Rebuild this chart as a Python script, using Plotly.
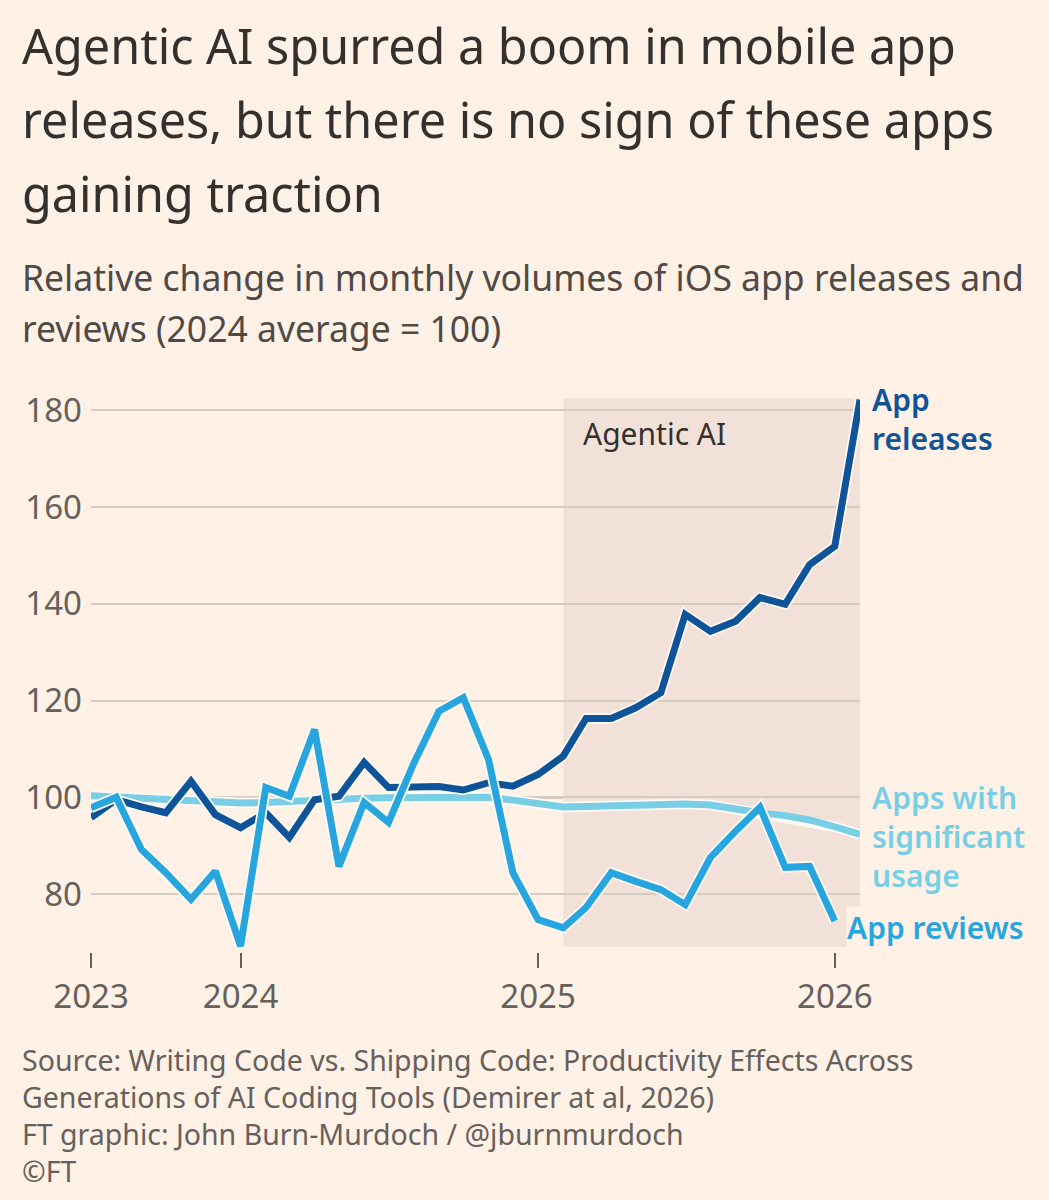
import plotly.graph_objects as go

months = [
    "2023-07-01", "2023-08-01", "2023-09-01", "2023-10-01", "2023-11-01", "2023-12-01",
    "2024-01-01", "2024-02-01", "2024-03-01", "2024-04-01", "2024-05-01", "2024-06-01",
    "2024-07-01", "2024-08-01", "2024-09-01", "2024-10-01", "2024-11-01", "2024-12-01",
    "2025-01-01", "2025-02-01", "2025-03-01", "2025-04-01", "2025-05-01", "2025-06-01",
    "2025-07-01", "2025-08-01", "2025-09-01", "2025-10-01", "2025-11-01", "2025-12-01",
    "2026-01-01", "2026-02-01",
]

app_releases = [
    95.8, 99.5, 98.0, 96.8, 103.3, 96.4,
    93.7, 96.8, 91.7, 99.5, 100.2, 107.2,
    102.0, 102.0, 102.2, 101.5, 103.0, 102.3,
    104.7, 108.5, 116.3, 116.3, 118.5, 121.6,
    137.8, 134.3, 136.4, 141.3, 139.9, 148.1,
    151.9, 182.2,
]

# reviews stop one month earlier (Jan 2026)
app_reviews = [
    97.8, 100.0, 89.2, 84.4, 78.9, 84.7,
    69.2, 102.0, 100.2, 114.0, 85.7, 98.9,
    94.8, 107.0, 117.8, 120.6, 107.8, 84.4,
    74.7, 73.0, 77.2, 84.4, 82.6, 80.9,
    77.8, 87.5, 93.0, 97.9, 85.5, 85.7,
    74.4,
]

significant_usage = [
    100.3, 100.0, 99.7, 99.4, 99.1, 98.9,
    98.8, 98.9, 99.2, 99.5, 99.7, 99.8,
    99.9, 100.0, 100.1, 100.2, 100.0, 99.4,
    98.8, 98.0, 98.1, 98.3, 98.5, 98.6,
    98.6, 98.4, 97.5, 96.8, 96.2, 95.3,
    93.9, 92.3,
]

x_tickvals = ["2023-07-01", "2024-01-01", "2025-01-01", "2026-01-01"]
x_ticktext = ["2023", "2024", "2025", "2026"]
y_ticks = [80, 100, 120, 140, 160, 180]

agentic_start = "2025-02-01"
agentic_end = "2026-02-01"

BG = "#fff1e5"
NAVY = "#0f5499"
SKY = "#27a5de"
AQUA = "#78cfe5"
GREY = "#66605c"
FONT = "Noto Sans"

# plot area in pixels
L, R, T, B = 91, 860, 391, 952
W, H = 1049, 1200


def px_x(px):
    return (px - L) / (R - L)


def px_y(py):
    return (B - py) / (B - T)


fig = go.Figure()

series = [
    (significant_usage, AQUA),
    (app_releases, NAVY),
    (app_reviews, SKY),
]
for vals, col in series:
    xs = months[:len(vals)]
    fig.add_trace(go.Scatter(x=xs, y=vals, mode="lines",
                             line=dict(color="#fffaf4", width=10.5),
                             hoverinfo="skip", showlegend=False))
    fig.add_trace(go.Scatter(x=xs, y=vals, mode="lines",
                             line=dict(color=col, width=7),
                             showlegend=False))

# agentic AI shading and the 100 baseline
fig.add_shape(type="rect", xref="x", yref="y", x0=agentic_start, x1=agentic_end,
              y0=69.1, y1=182.5, fillcolor="#f2e1d8", line_width=0, layer="below")
fig.add_shape(type="line", xref="paper", yref="y", x0=0, x1=1, y0=100, y1=100,
              line=dict(color="#5e5750", width=2), layer="between")

annos = []


def text(s, x, y, size, color, anchor="left", weight=None, bg=None):
    f = dict(family=FONT, size=size, color=color)
    if weight:
        f["weight"] = weight
    a = dict(text=s, xref="paper", yref="paper", x=px_x(x), y=px_y(y),
             xanchor=anchor, yanchor="middle", align="left", showarrow=False, font=f)
    if bg:
        a["bgcolor"] = bg
        a["borderpad"] = 0
    annos.append(a)


title_lines = ["Agentic AI spurred a boom in mobile app",
               "releases, but there is no sign of these apps",
               "gaining traction"]
for i, s in enumerate(title_lines):
    text(s, 20, 45 + i * 74, 48.5, "#33302e")

sub_lines = ["Relative change in monthly volumes of iOS app releases and",
             "reviews (2024 average = 100)"]
for i, s in enumerate(sub_lines):
    text(s, 20, 277 + i * 51, 35.5, "#4f4a46")

foot_lines = ["Source: Writing Code vs. Shipping Code: Productivity Effects Across",
              "Generations of AI Coding Tools (Demirer at al, 2026)",
              "FT graphic: John Burn-Murdoch / @jburnmurdoch",
              "©FT"]
for i, s in enumerate(foot_lines):
    text(s, 20, 1060 + i * 37, 28.5, GREY)

text("Agentic AI", 581, 433, 30, "#33302e")

text("App<br>releases", 870, 419, 30, NAVY, weight=600)
text("Apps with<br>significant<br>usage", 870, 836, 30, AQUA, weight=600)
text("App reviews", 846, 927, 30, SKY, weight=600, bg=BG)

fig.update_layout(
    width=W, height=H, autosize=False,
    margin=dict(l=L, r=W - R, t=T, b=H - B, pad=0),
    paper_bgcolor=BG, plot_bgcolor=BG,
    font=dict(family=FONT, color=GREY),
    annotations=annos,
    showlegend=False,
)
fig.update_xaxes(
    type="date", range=[months[0], months[-1]],
    tickvals=x_tickvals, ticktext=x_ticktext,
    showgrid=False, zeroline=False, showline=False,
    ticks="outside", ticklen=15, tickwidth=2, tickcolor=GREY,
    tickfont=dict(size=33, color=GREY),
)
fig.update_yaxes(
    range=[68, 184], tickvals=y_ticks,
    showgrid=True, gridcolor="#d6cbc1", gridwidth=2,
    zeroline=False, showline=False, ticks="",
    ticklabelstandoff=8,
    tickfont=dict(size=33, color=GREY),
)

fig.write_html("out.html", config={"displayModeBar": False},
               post_script="document.body.style.margin='0';")
